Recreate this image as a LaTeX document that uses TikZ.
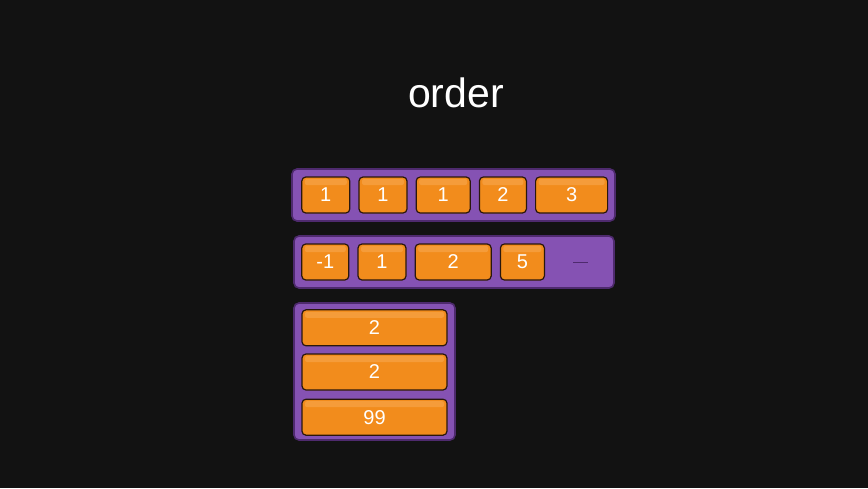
\documentclass[tikz,border=0pt]{standalone}
\usepackage{fontspec}
\setmainfont{Liberation Sans}
\usetikzlibrary{positioning}
\definecolor{bgdark}{HTML}{121212}
\definecolor{traypurple}{HTML}{8552B3}
\definecolor{trayedge}{HTML}{4E2A6E}
\definecolor{cellorange}{HTML}{F28C1C}
\definecolor{celllight}{HTML}{F59C3A}
\definecolor{celledge}{HTML}{2A170C}

\begin{document}
\begin{tikzpicture}[
          x=1pt, y=-1pt,
          tray/.style={rectangle, rounded corners=5pt, draw=trayedge, line width=1.6pt, fill=traypurple},
          cell/.style={rectangle, rounded corners=4pt, draw=celledge, line width=1.2pt, fill=cellorange, minimum height=36pt, inner sep=0pt, text=white, font=\fontsize{20}{20}\selectfont,
            path picture={\fill[celllight, rounded corners=2pt] ([xshift=3pt,yshift=-2pt]path picture bounding box.north west) rectangle ([xshift=-3pt,yshift=-8pt]path picture bounding box.north east);}},
          gap/.style={node distance=8pt}
        ]
          \fill[bgdark] (0,0) rectangle (868,488);
          \useasboundingbox (0,0) rectangle (868,488);

          \node[anchor=base, text=white, font=\fontsize{41}{41}\selectfont] (title) at (456,107) {order};

          % first row
          \node[tray, minimum width=323pt, minimum height=52pt] (tray1) at (453.5,195) {};
          \node[cell, minimum width=48pt, right=10pt of tray1.west] (a1) {1};
          \node[cell, minimum width=48pt, gap, right=of a1] (a2) {1};
          \node[cell, minimum width=54pt, gap, right=of a2] (a3) {1};
          \node[cell, minimum width=47pt, gap, right=of a3] (a4) {2};
          \node[cell, minimum width=72pt, gap, right=of a4] (a5) {3};

          % second row
          \node[tray, minimum width=320pt, minimum height=52pt] (tray2) at (454,262) {};
          \node[cell, minimum width=47pt, right=8pt of tray2.west] (b1) {-1};
          \node[cell, minimum width=48pt, gap, right=of b1] (b2) {1};
          \node[cell, minimum width=76pt, gap, right=of b2] (b3) {2};
          \node[cell, minimum width=44pt, gap, right=of b3] (b4) {5};
          \draw[trayedge, line width=0.8pt] ([xshift=28pt]b4.east) -- ++(15,0);

          % column
          \node[tray, minimum width=161pt, minimum height=137pt] (tray3) at (374.5,371.5) {};
          \node[cell, minimum width=145pt, below=7pt of tray3.north] (c1) {2};
          \node[cell, minimum width=145pt, below=7pt of c1] (c2) {2};
          \node[cell, minimum width=145pt, below=8pt of c2] (c3) {99};
        \end{tikzpicture}
\end{document}
